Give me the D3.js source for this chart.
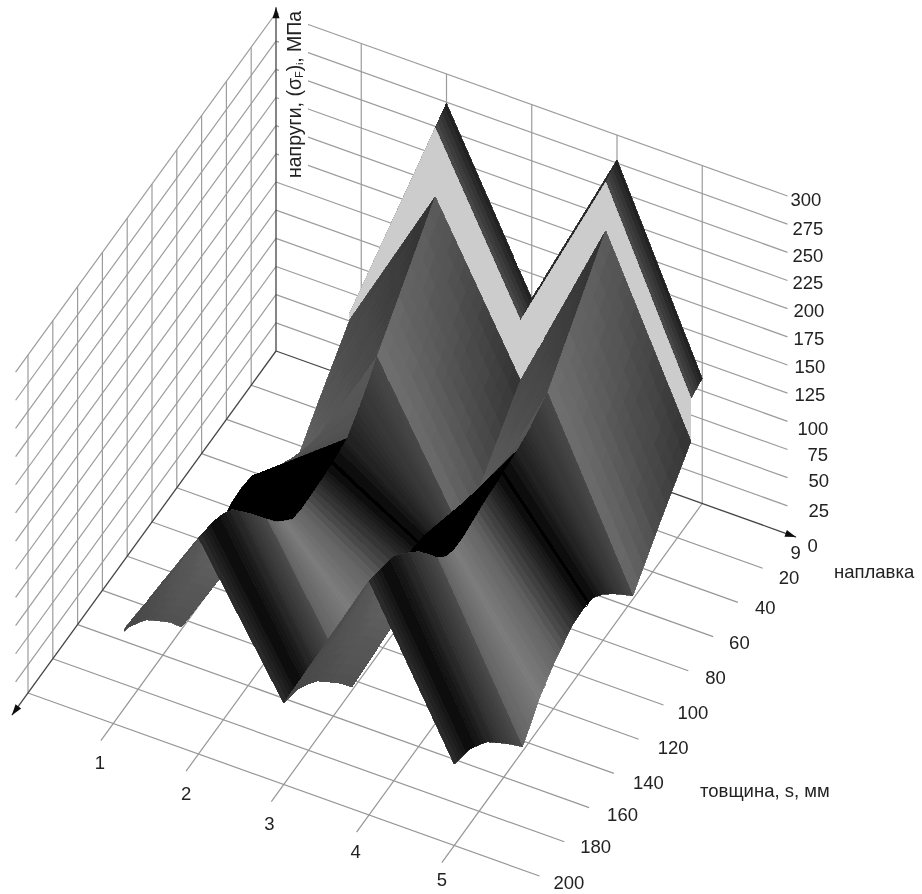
<!DOCTYPE html>
<html>
<head>
<meta charset="utf-8">
<script src="https://cdn.jsdelivr.net/npm/d3@7"></script>
<style>
  html, body { margin: 0; background: #fff; }
  svg { display: block; }
  text { font-family: "Liberation Sans", Arial, sans-serif; fill: #222; }
</style>
</head>
<body>
<div id="chart"></div>
<script>
// Axis ticks
const categories = [1, 2, 3, 4, 5];
const thicknessTicks = [9, 20, 40, 60, 80, 100, 120, 140, 160, 180, 200];
const stressTicks = [0, 25, 50, 75, 100, 125, 150, 175, 200, 225, 250, 275, 300];

// Surface rows (thickness, mm). 14 is there twice because the stress jumps at that thickness
const thicknessRows = [9, 14, 14, 34, 56, 62, 70, 80, 88, 96, 104, 117, 124, 131, 138, 145, 154, 160, 173, 180, 188, 200];

// Stress (MPa) along each row, one list per weld number
const stressWeld1 = [75, 75, 69, 35, 3, 13, 26, 41, 50, 52, 51, 42, 35, 27, 15, 2, 20, 30, 51, 59, 67, 72];
const stressWeld2 = [274, 266, 205, 167, 134, 123, 111, 98, 95, 93, 92, 91, 93, 102, 112, 125, 142, 153, 176, 183, 188, 192];
const stressWeld3 = [128, 122, 69, 35, 3, 13, 26, 41, 50, 52, 51, 42, 35, 27, 15, 3, 20, 30, 51, 59, 67, 72];
const stressWeld4 = [278, 272, 229, 190, 156, 152, 146, 142, 140, 138, 137, 133, 131, 131, 135, 145, 162, 173, 191, 199, 203, 208];
const stressWeld5 = [111, 107, 69, 35, 3, 13, 26, 41, 50, 52, 51, 42, 35, 27, 15, 4, 20, 30, 51, 59, 67, 72];
const stressColumns = [stressWeld1, stressWeld2, stressWeld3, stressWeld4, stressWeld5];

// Grey levels of the surface between these thicknesses: [back left, back right, front left, front right]
const shadeBands = [9, 14, 34, 56, 68, 80, 92, 104, 117, 131, 145, 160, 173, 188, 200];
const shadeFalling = [
  [0x1e, 0x1e, 0x4c, 0x4c], [0x5a, 0x32, 0x64, 0x48], [0x64, 0x48, 0x70, 0x68],
  [0x48, 0x48, 0x36, 0x36], [0x36, 0x36, 0x22, 0x22], [0x22, 0x22, 0x04, 0x04], [0x04, 0x04, 0x30, 0x30],
  [0x30, 0x30, 0x64, 0x64], [0x64, 0x64, 0x7c, 0x7c], [0x7c, 0x7c, 0x62, 0x62], [0x4c, 0x4c, 0x3a, 0x3a],
  [0x3a, 0x3a, 0x26, 0x26], [0x26, 0x26, 0x06, 0x06], [0x06, 0x06, 0x30, 0x30]
];
const shadeRising = [
  [0x2c, 0x2c, 0x2c, 0x2c], [0x4a, 0x30, 0x58, 0x3a], [0x58, 0x3a, 0x66, 0x48],
  [0x58, 0x58, 0x54, 0x54], [0x54, 0x54, 0x50, 0x50], [0x06, 0x06, 0x06, 0x06], [0x06, 0x06, 0x06, 0x06],
  [0x06, 0x06, 0x06, 0x06], [0x06, 0x06, 0x06, 0x06], [0x06, 0x06, 0x06, 0x06], [0x50, 0x6a, 0x50, 0x6a],
  [0x50, 0x6a, 0x4c, 0x62], [0x4c, 0x62, 0x48, 0x5a], [0x48, 0x5a, 0x44, 0x50]
];
const cliffShade = 0xcc;

const width = 922, height = 894;
const root = d3.select("#chart").append("svg").attr("width", width).attr("height", height);

// The original is a soft scan, a slight blur gets the same look and hides mesh seams
const defs = root.append("defs");
function addBlur(id, amount) {
  defs.append("filter").attr("id", id)
    .attr("filterUnits", "userSpaceOnUse")
    .attr("x", 0).attr("y", 0).attr("width", width).attr("height", height)
    .append("feGaussianBlur").attr("stdDeviation", amount);
}
addBlur("soft", 0.4);
addBlur("softSurface", 0.6);

const svg = root.append("g").attr("filter", "url(#soft)");

// Fixed oblique projection: each axis adds its own screen offset to the back corner
const corner = [276, 351];
const catX = d3.scaleLinear().domain([0, 6]).range([0, 511.5]);
const catY = d3.scaleLinear().domain([0, 6]).range([0, 183]);
const sliceX = d3.scaleLinear().domain([0, 10]).range([0, -248]);
const sliceY = d3.scaleLinear().domain([0, 10]).range([0, 342]);
const stressY = d3.scaleLinear().domain([0, 300]).range([0, -338]);
// thickness ticks are evenly spaced on the axis even though 9-20 is a short step
const sliceOf = d3.scaleLinear().domain(thicknessTicks).range(d3.range(thicknessTicks.length));

function project(c, slice, z) {
  return [corner[0] + catX(c) + sliceX(slice), corner[1] + catY(c) + sliceY(slice) + stressY(z)];
}

function drawLine(a, b, color, w) {
  svg.append("line")
    .attr("x1", a[0]).attr("y1", a[1])
    .attr("x2", b[0]).attr("y2", b[1])
    .attr("stroke", color).attr("stroke-width", w);
}

const gridColor = "#9c9c9c";
const lastSlice = thicknessTicks.length - 1;

// Left wall and back wall
stressTicks.slice(1).forEach(function(z) {
  drawLine(project(0, 0, z), project(0, 10.5, z), gridColor, 1.2);
  drawLine(project(0, 0, z), project(6, 0, z), gridColor, 1.2);
});
d3.range(1, lastSlice + 1).forEach(function(i) {
  drawLine(project(0, i, 0), project(0, i, 300), gridColor, 1.2);
});
categories.forEach(function(c) {
  drawLine(project(c, 0, 0), project(c, 0, 300), gridColor, 1.2);
});

// Floor
thicknessTicks.slice(1).forEach(function(s, i) {
  drawLine(project(0, i + 1, 0), project(6, i + 1, 0), "#969696", 1.2);
});
categories.forEach(function(c) {
  drawLine(project(c, 0, 0), project(c, 10.5, 0), "#969696", 1.2);
});

// White box behind the vertical title hides the start of the upper wall lines
svg.append("rect").attr("x", 279).attr("y", 0).attr("width", 29).attr("height", 172).attr("fill", "#fff");

// Axes with small arrow heads
const axisColor = "#444";
function drawArrow(from, to) {
  drawLine(from, to, axisColor, 1.3);
  const ang = Math.atan2(to[1] - from[1], to[0] - from[0]);
  const size = 11, side = 3.5;
  const bx = to[0] - size * Math.cos(ang), by = to[1] - size * Math.sin(ang);
  svg.append("polygon")
    .attr("points", [
      to,
      [bx + side * Math.sin(ang), by - side * Math.cos(ang)],
      [bx - side * Math.sin(ang), by + side * Math.cos(ang)]
    ].join(" "))
    .attr("fill", "#111");
}
drawArrow(project(0, 0, 0), project(0, 0, 305));
drawArrow(project(0, 0, 0), project(0, 10.65, 0));
drawArrow(project(0, 0, 0), project(6.1, 0, 0));

function shadeAt(table, s, u, flat) {
  if (flat) return cliffShade;
  const b = Math.min(d3.bisectRight(shadeBands, s) - 1, table.length - 1);
  const v = (s - shadeBands[b]) / (shadeBands[b + 1] - shadeBands[b]);
  const t = table[b];
  return (1 - u) * (1 - v) * t[0] + u * (1 - v) * t[1] + (1 - u) * v * t[2] + u * v * t[3];
}

// Surface: back rows first, left columns first, so nearer cells paint over farther ones
svg.append("clipPath").attr("id", "surfaceClip")
  .append("rect")
  .attr("x", project(1.13, lastSlice, 0)[0]).attr("y", 0)
  .attr("width", width).attr("height", height);
const surface = svg.append("g").attr("filter", "url(#softSurface)")
  .append("g").attr("clip-path", "url(#surfaceClip)");

const stepsAcross = 14, stepsDown = 5;
d3.range(thicknessRows.length - 1).forEach(function(r) {
  d3.range(categories.length - 1).forEach(function(k) {
    const table = k % 2 === 0 ? shadeRising : shadeFalling;
    const rs0 = thicknessRows[r], rs1 = thicknessRows[r + 1];
    const s0 = sliceOf(rs0), s1 = sliceOf(rs1);
    const z00 = stressColumns[k][r], z10 = stressColumns[k + 1][r];
    const z01 = stressColumns[k][r + 1], z11 = stressColumns[k + 1][r + 1];
    const point = function(u, v) {
      const z = (1 - u) * (1 - v) * z00 + u * (1 - v) * z10 + (1 - u) * v * z01 + u * v * z11;
      return project(categories[k] + u, s0 + (s1 - s0) * v, z);
    };
    d3.range(stepsDown).forEach(function(i) {
      d3.range(stepsAcross).forEach(function(j) {
        const u0 = j / stepsAcross, u1 = (j + 1) / stepsAcross;
        const v0 = i / stepsDown, v1 = (i + 1) / stepsDown;
        const um = (u0 + u1) / 2, vm = (v0 + v1) / 2;
        const g = Math.round(shadeAt(table, rs0 + (rs1 - rs0) * vm, um, rs0 === rs1));
        const color = d3.rgb(g, g, g).formatHex();
        // no antialiasing on the mesh pieces, otherwise their seams show as a pattern
        surface.append("polygon")
          .attr("points", [point(u0, v0), point(u1, v0), point(u1, v1), point(u0, v1)].join(" "))
          .attr("fill", color).attr("stroke", color).attr("stroke-width", 0.8)
          .attr("shape-rendering", "crispEdges");
      });
    });
  });
});

// Tick labels, the hand-set nudges follow the uneven spacing of the original labels
const fontSize = 18.5;
function label(x, y, str, anchor) {
  return svg.append("text")
    .attr("x", x).attr("y", y)
    .attr("dy", "0.36em")
    .attr("text-anchor", anchor || "start")
    .attr("font-size", fontSize)
    .text(str);
}

const stressNudge = [[20, 11], [21, 5], [21, 3], [20, 5], [10, 7], [7, 1], [7, 1], [6, 2], [6, 2], [5, 2], [5, 3], [5, 4], [3, 3]];
stressTicks.forEach(function(z, i) {
  const p = project(6, 0, z);
  label(p[0] + stressNudge[i][0], p[1] + stressNudge[i][1], z);
});

const thicknessNudge = [[3, 18], [16, 9], [17, 5], [16, 6], [17, 7], [14, 7], [19, 8], [19, 9], [18, 7], [16, 5], [14, 6]];
thicknessTicks.forEach(function(s, i) {
  const p = project(6, i, 0);
  label(p[0] + thicknessNudge[i][0], p[1] + thicknessNudge[i][1], s);
});

const categoryNudge = [[-1, 22], [0, 22], [-2, 22], [-1, 19], [0, 17]];
categories.forEach(function(c, i) {
  const p = project(c, 10.5, 0);
  label(p[0] + categoryNudge[i][0], p[1] + categoryNudge[i][1], c, "middle");
});

// Axis titles
label(834, 571, "наплавка");
label(700, 790, "товщина, s, мм");

const title = svg.append("text")
  .attr("transform", "translate(301,178) rotate(-90)")
  .attr("font-size", 19.5);
title.append("tspan").text("напруги, (σ");
title.append("tspan").attr("font-size", 11).attr("dy", 2).text("F");
title.append("tspan").attr("dy", -2).text(")");
title.append("tspan").attr("font-size", 9).attr("dy", 2).text("i");
title.append("tspan").attr("dy", -2).text(", МПа");
</script>
</body>
</html>
